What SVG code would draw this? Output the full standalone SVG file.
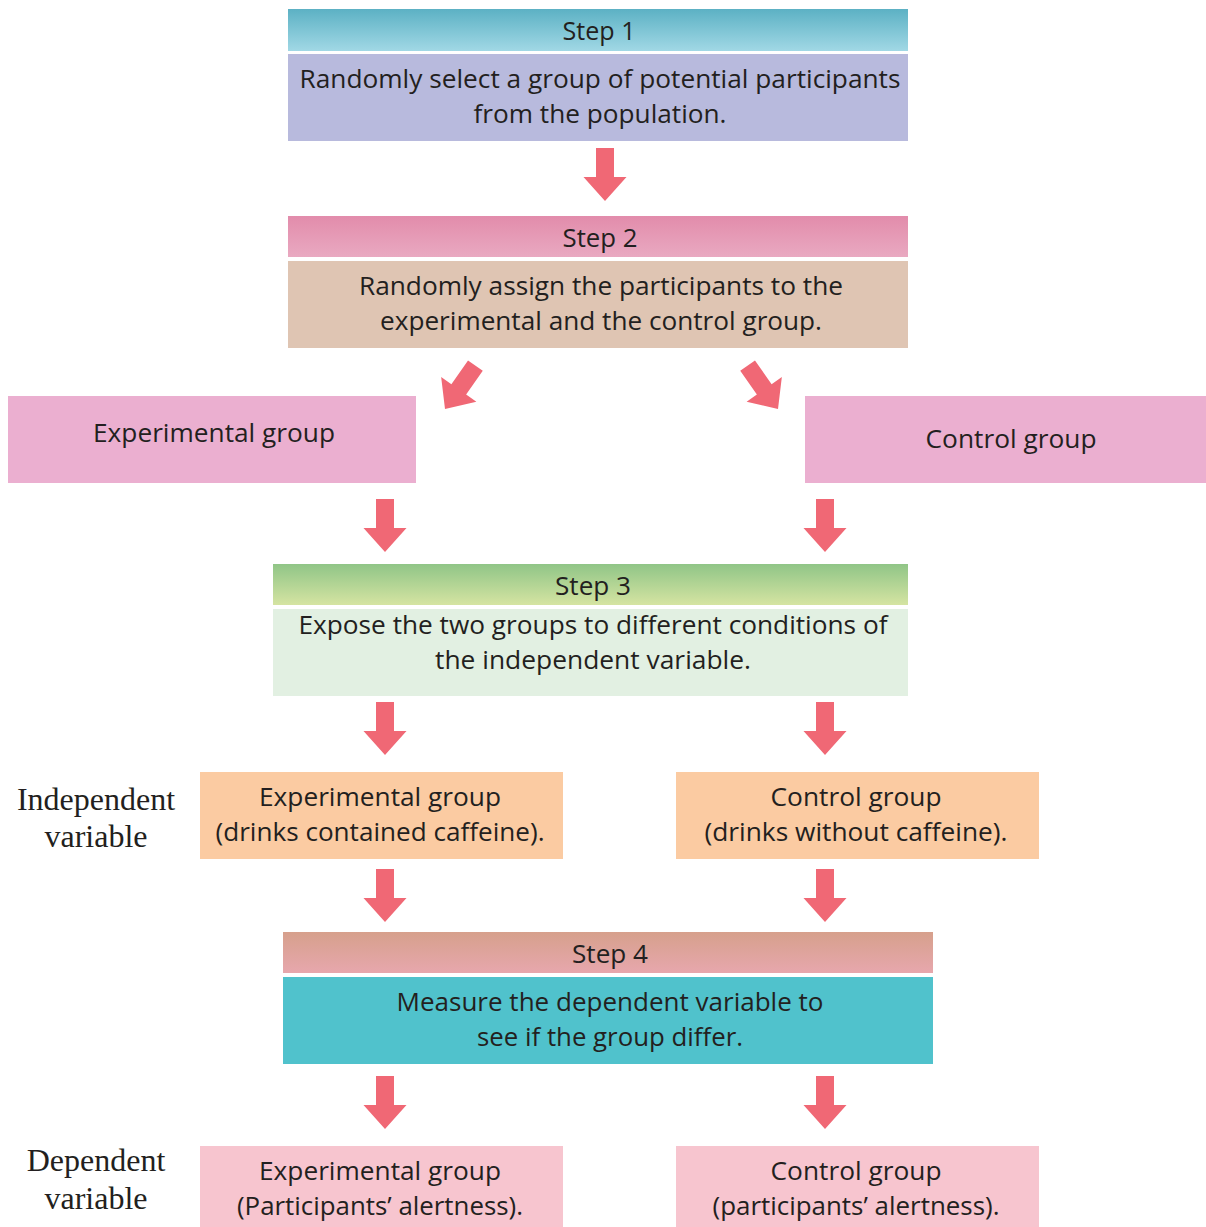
<svg xmlns="http://www.w3.org/2000/svg" width="1206" height="1227" viewBox="0 0 1206 1227">
<defs>
<linearGradient id="g1" x1="0" y1="0" x2="0" y2="1"><stop offset="0" stop-color="#5cb1c4"/><stop offset="1" stop-color="#a1d8e5"/></linearGradient>
<linearGradient id="g2" x1="0" y1="0" x2="0" y2="1"><stop offset="0" stop-color="#e28cab"/><stop offset="1" stop-color="#e9a9c1"/></linearGradient>
<linearGradient id="g3" x1="0" y1="0" x2="0" y2="1"><stop offset="0" stop-color="#90c587"/><stop offset="1" stop-color="#d5e4a2"/></linearGradient>
<linearGradient id="g4" x1="0" y1="0" x2="0" y2="1"><stop offset="0" stop-color="#d6a08c"/><stop offset="1" stop-color="#e7a7ad"/></linearGradient>
<path id="arr" d="M-9,-53 H9 V-24 H21.5 L0,0 L-21.5,-24 H-9 Z"/>
</defs>
<style>
.t{font-family:"Open Sans","Liberation Sans",sans-serif;font-size:25.5px;fill:#231f20;text-anchor:middle}
.s{font-family:"Liberation Serif","Times New Roman",serif;font-size:32px;fill:#231f20;text-anchor:middle}
.a{fill:#f06875}
</style>
<rect width="1206" height="1227" fill="#ffffff"/>

<g id="step1">
<rect x="288" y="9" width="620" height="42" fill="url(#g1)"/>
<rect x="288" y="54" width="620" height="87" fill="#b8badd"/>
<text class="t" x="599" y="40" textLength="73" lengthAdjust="spacingAndGlyphs">Step 1</text>
<text class="t" x="600" y="88" textLength="601" lengthAdjust="spacingAndGlyphs">Randomly select a group of potential participants</text>
<text class="t" x="600" y="123" textLength="253" lengthAdjust="spacingAndGlyphs">from the population.</text>
</g>

<g id="step2">
<rect x="288" y="216" width="620" height="41" fill="url(#g2)"/>
<rect x="288" y="261" width="620" height="87" fill="#dfc5b3"/>
<text class="t" x="600" y="247" textLength="75" lengthAdjust="spacingAndGlyphs">Step 2</text>
<text class="t" x="601" y="295" textLength="484" lengthAdjust="spacingAndGlyphs">Randomly assign the participants to the</text>
<text class="t" x="601" y="330" textLength="442" lengthAdjust="spacingAndGlyphs">experimental and the control group.</text>
</g>

<g id="exp-group">
<rect x="8" y="396" width="408" height="87" fill="#ebafd0"/>
<text class="t" x="214" y="442" textLength="242" lengthAdjust="spacingAndGlyphs">Experimental group</text>
</g>

<g id="ctrl-group">
<rect x="805" y="396" width="401" height="87" fill="#ebafd0"/>
<text class="t" x="1011" y="448" textLength="171" lengthAdjust="spacingAndGlyphs">Control group</text>
</g>

<g id="step3">
<rect x="273" y="564" width="635" height="41" fill="url(#g3)"/>
<rect x="273" y="609" width="635" height="87" fill="#e2f0e2"/>
<text class="t" x="593" y="595" textLength="76" lengthAdjust="spacingAndGlyphs">Step 3</text>
<text class="t" x="593" y="634" textLength="589" lengthAdjust="spacingAndGlyphs">Expose the two groups to different conditions of</text>
<text class="t" x="593" y="669" textLength="316" lengthAdjust="spacingAndGlyphs">the independent variable.</text>
</g>

<g id="iv-label">
<text class="s" x="96" y="810">Independent</text>
<text class="s" x="96" y="847">variable</text>
</g>

<g id="iv-exp">
<rect x="200" y="772" width="363" height="87" fill="#fbcba2"/>
<text class="t" x="380" y="806" textLength="242" lengthAdjust="spacingAndGlyphs">Experimental group</text>
<text class="t" x="380" y="841" textLength="329" lengthAdjust="spacingAndGlyphs">(drinks contained caffeine).</text>
</g>

<g id="iv-ctrl">
<rect x="676" y="772" width="363" height="87" fill="#fbcba2"/>
<text class="t" x="856" y="806" textLength="171" lengthAdjust="spacingAndGlyphs">Control group</text>
<text class="t" x="856" y="841" textLength="303" lengthAdjust="spacingAndGlyphs">(drinks without caffeine).</text>
</g>

<g id="step4">
<rect x="283" y="932" width="650" height="41" fill="url(#g4)"/>
<rect x="283" y="977" width="650" height="87" fill="#50c2cc"/>
<text class="t" x="610" y="963" textLength="76" lengthAdjust="spacingAndGlyphs">Step 4</text>
<text class="t" x="610" y="1011" textLength="427" lengthAdjust="spacingAndGlyphs">Measure the dependent variable to</text>
<text class="t" x="610" y="1046" textLength="266" lengthAdjust="spacingAndGlyphs">see if the group differ.</text>
</g>

<g id="dv-label">
<text class="s" x="96" y="1171">Dependent</text>
<text class="s" x="96" y="1209">variable</text>
</g>

<g id="dv-exp">
<rect x="200" y="1146" width="363" height="81" fill="#f7c5cf"/>
<text class="t" x="380" y="1180" textLength="242" lengthAdjust="spacingAndGlyphs">Experimental group</text>
<text class="t" x="380" y="1215" textLength="286" lengthAdjust="spacingAndGlyphs">(Participants’ alertness).</text>
</g>

<g id="dv-ctrl">
<rect x="676" y="1146" width="363" height="81" fill="#f7c5cf"/>
<text class="t" x="856" y="1180" textLength="171" lengthAdjust="spacingAndGlyphs">Control group</text>
<text class="t" x="856" y="1215" textLength="287" lengthAdjust="spacingAndGlyphs">(participants’ alertness).</text>
</g>

<g id="connectors" class="a">
<use href="#arr" transform="translate(605,201)"/>
<use href="#arr" transform="translate(445,409) rotate(35)"/>
<use href="#arr" transform="translate(778,409) rotate(-35)"/>
<use href="#arr" transform="translate(385,552)"/>
<use href="#arr" transform="translate(825,552)"/>
<use href="#arr" transform="translate(385,755)"/>
<use href="#arr" transform="translate(825,755)"/>
<use href="#arr" transform="translate(385,922)"/>
<use href="#arr" transform="translate(825,922)"/>
<use href="#arr" transform="translate(385,1129)"/>
<use href="#arr" transform="translate(825,1129)"/>
</g>
</svg>
